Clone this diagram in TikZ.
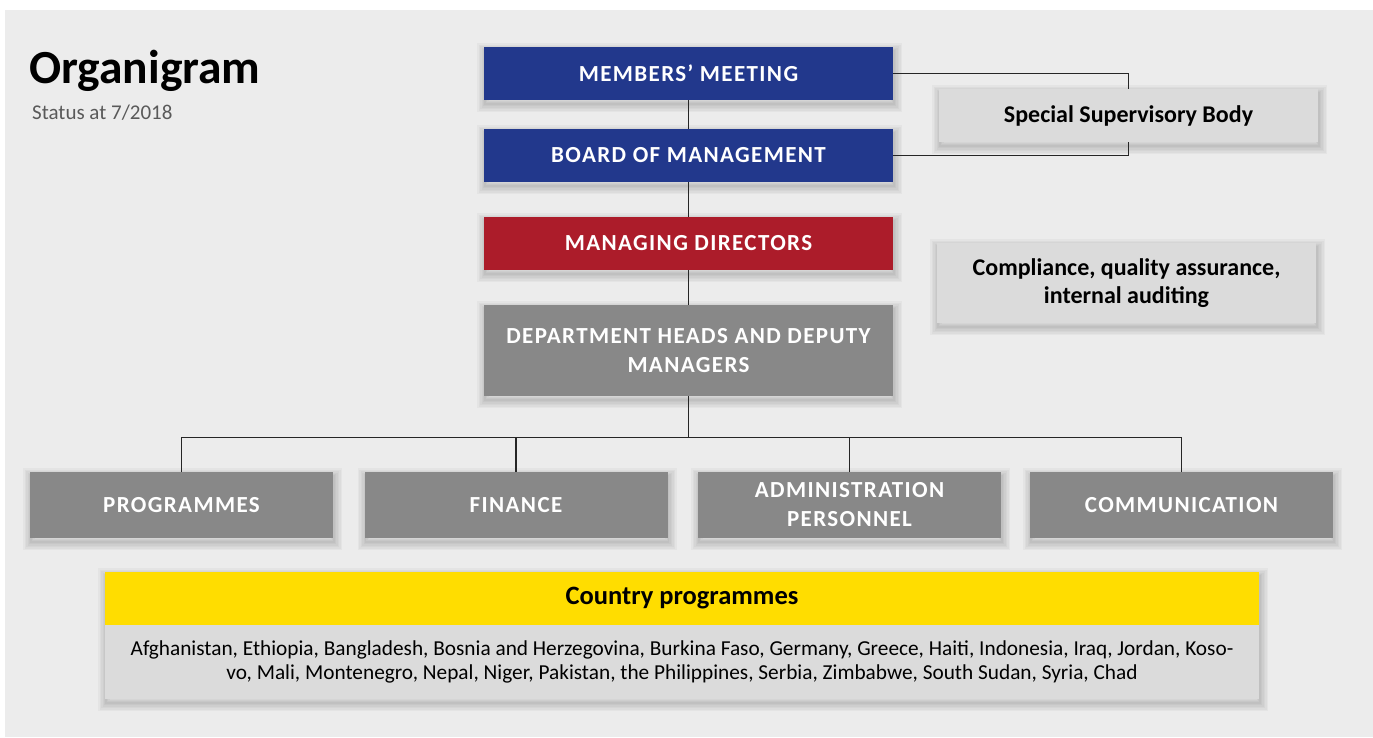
\documentclass[tikz,border=0pt]{standalone}
\usepackage{fontspec}
\setmainfont{Carlito}
\newfontfamily\mayusfont[LetterSpace=6]{Carlito}
\usetikzlibrary{positioning,shadows}

\definecolor{azul}{RGB}{34,56,140}
\definecolor{rojo}{RGB}{172,28,42}
\definecolor{grisoscuro}{RGB}{136,136,136}
\definecolor{grisclaro}{RGB}{219,219,219}
\definecolor{fondo}{RGB}{236,236,236}
\definecolor{amarillo}{RGB}{255,221,0}

\tikzset{
    % sombra difusa: varios trazos anchos y transparentes
    capa/.style={general shadow={draw=black, draw opacity=0.03, line width=#1,
        shadow xshift=1pt, shadow yshift=-4pt}},
    sombra/.style={capa=16pt, capa=13pt, capa=10pt, capa=7pt, capa=4pt, capa=1.5pt},
    caja/.style={rectangle, inner sep=0pt, align=center, text=white, sombra,
        font=\mayusfont\bfseries\fontsize{23}{29}\selectfont},
    organo/.style={caja, minimum width=409pt, minimum height=53pt},
    area/.style={caja, fill=grisoscuro, minimum width=303pt, minimum height=66pt},
    nota/.style={rectangle, inner sep=0pt, align=center, fill=grisclaro, sombra,
        minimum width=379pt, font=\bfseries\fontsize{24}{28}\selectfont},
    linea/.style={draw=black!85, line width=1.2pt},
}

\begin{document}
\begin{tikzpicture}[x=1pt, y=-1pt]
    \useasboundingbox (0,0) rectangle (1373,737);

    % Fondo
    \fill[fondo] (5,10) rectangle (1373,737);

    % Título
    \node[anchor=base west, inner sep=0pt, font=\bfseries\fontsize{47.5}{50}\selectfont]
        (titulo) at (29,83) {Organigram};
    \node[anchor=base west, inner sep=0pt, text=black!65, font=\fontsize{21}{24}\selectfont]
        (estado) at (32,119) {Status at 7/2018};

    % Órganos de dirección
    \node[organo, fill=azul] (asamblea) at (688.5,73.5) {MEMBERS’ MEETING};
    \node[organo, fill=azul] (junta) at (688.5,155.5) {BOARD OF MANAGEMENT};
    \node[organo, fill=rojo] (direccion) at (688.5,243.5) {MANAGING DIRECTORS};
    \node[organo, fill=grisoscuro, minimum height=91pt] (jefes) at (688.5,350.5)
        {DEPARTMENT HEADS AND DEPUTY\\MANAGERS};

    % Órganos de control
    \node[nota, minimum height=53pt] (vigilancia) at (1128.5,115.5) {Special Supervisory Body};
    \node[nota, minimum height=80pt] (cumplimiento) at (1126.5,283)
        {Compliance, quality assurance,\\internal auditing};

    % Departamentos
    \node[area] (programas) at (181.5,505) {PROGRAMMES};
    \node[area] (finanzas) at (516,505) {FINANCE};
    \node[area] (administracion) at (849.5,505) {ADMINISTRATION\\PERSONNEL};
    \node[area] (comunicacion) at (1181.5,505) {COMMUNICATION};

    % Programas por país
    \node[rectangle, inner sep=0pt, fill=grisclaro, sombra, minimum width=1154pt, minimum height=127pt]
        (bloque) at (682,635.5) {};
    \node[rectangle, inner sep=0pt, fill=amarillo, minimum width=1154pt, minimum height=53pt,
        font=\bfseries\fontsize{26.5}{30}\selectfont] (cabecera) at (682,598.5) {Country programmes};
    \node[rectangle, inner sep=0pt, minimum width=1154pt, minimum height=74pt,
        align=center, font=\fontsize{21.3}{24}\selectfont] (paises) at (682,662)
        {Afghanistan, Ethiopia, Bangladesh, Bosnia and Herzegovina, Burkina Faso, Germany, Greece, Haiti, Indonesia, Iraq, Jordan, Koso-\\
         vo, Mali, Montenegro, Nepal, Niger, Pakistan, the Philippines, Serbia, Zimbabwe, South Sudan, Syria, Chad};

    % Conexiones
    \draw[linea] (asamblea.south) -- (junta.north);
    \draw[linea] (junta.south) -- (direccion.north);
    \draw[linea] (direccion.south) -- (jefes.north);
    \draw[linea] (asamblea.east) -| (vigilancia.north);
    \draw[linea] (junta.east) -| (vigilancia.south);

    \coordinate (reparto) at ([yshift=-41pt]jefes.south);
    \foreach \area in {programas,finanzas,administracion,comunicacion} {
        \draw[linea] (jefes.south) -- (reparto) -| (\area.north);
    }
\end{tikzpicture}
\end{document}
